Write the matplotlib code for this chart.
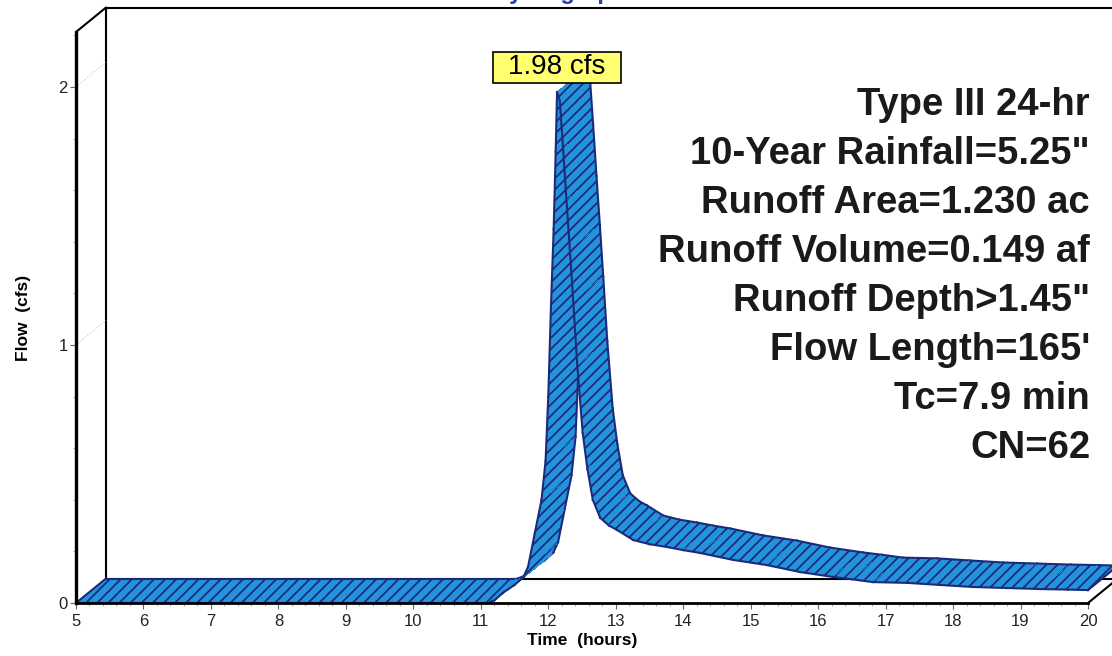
import numpy as np
import matplotlib.pyplot as plt
from matplotlib.patches import Polygon
from matplotlib.path import Path
from matplotlib.ticker import MultipleLocator

# hydrograph (front edge of the ribbon)
time_hr = [5.0, 11.1, 11.2, 11.33, 11.5, 11.63, 11.7, 11.8, 11.9, 11.96, 12.0,
           12.04, 12.08, 12.11, 12.13, 12.17, 12.22, 12.27, 12.32, 12.37, 12.43,
           12.51, 12.58, 12.66, 12.77, 12.9, 13.02, 13.26, 13.5, 13.76, 14.0,
           14.25, 14.74, 15.24, 15.73, 16.22, 16.5, 16.81, 17.32, 17.8, 18.3,
           18.8, 19.3, 19.7, 20.0]
flow_cfs = [0.0, 0.0, 0.01, 0.04, 0.07, 0.10, 0.14, 0.27, 0.40, 0.55, 0.80,
            1.15, 1.45, 1.75, 1.98, 1.95, 1.76, 1.56, 1.37, 1.17, 0.92,
            0.66, 0.52, 0.40, 0.33, 0.30, 0.283, 0.244, 0.228, 0.217, 0.205,
            0.194, 0.167, 0.147, 0.120, 0.101, 0.092, 0.081, 0.078, 0.070, 0.062,
            0.058, 0.054, 0.052, 0.050]
peak_label = "1.98 cfs"
summary_lines = [
    "Type III 24-hr",
    '10-Year Rainfall=5.25"',
    "Runoff Area=1.230 ac",
    "Runoff Volume=0.149 af",
    'Runoff Depth>1.45"',
    "Flow Length=165'",
    "Tc=7.9 min",
    "CN=62",
]
x_range = (5, 20)
y_top = 2.213

W, H = 1112, 656
DX, DY = 30, 24.5          # depth offset of the fake 3D box, pixels
FILL = "#2394dc"
NAVY = "#1b2a7a"

plt.rcParams["font.family"] = ["Liberation Sans", "DejaVu Sans"]
plt.rcParams["hatch.linewidth"] = 1.3

fig = plt.figure(figsize=(W / 100, H / 100), dpi=100)
ax = fig.add_axes([76 / W, (H - 603) / H, (1088 - 76) / W, (603 - 32) / H])
ax.set_xlim(*x_range)
ax.set_ylim(0, y_top)

dt = DX * (x_range[1] - x_range[0]) / (1088 - 76)
dq = DY * y_top / (603 - 32)
x0, x1 = x_range

# back wall / floor lines
frame = dict(color="black", lw=1.5, clip_on=False, zorder=1, solid_capstyle="round")
ax.plot([x0 + dt, x0 + dt, x1 + dt], [dq, y_top + dq, y_top + dq], **frame)
ax.plot([x0 + dt, x1 + dt], [dq, dq], **frame)
ax.plot([x1 + dt, x1 + dt], [dq, y_top + dq], **frame)
ax.plot([x0, x0 + dt], [y_top, y_top + dq], **frame)
ax.plot([x1, x1 + dt], [0, dq], **frame)
for yv in (1, 2):
    ax.plot([x0, x0 + dt], [yv, yv + dq], color="#c8c8c8", lw=0.8, ls=":",
            clip_on=False, zorder=1)

# ribbon, painted quad by quad in time order
t = np.array(time_hr)
q = np.array(flow_cfs)
for i in range(len(t) - 1):
    quad = [(t[i], q[i]), (t[i + 1], q[i + 1]),
            (t[i + 1] + dt, q[i + 1] + dq), (t[i] + dt, q[i] + dq)]
    ax.add_patch(Polygon(quad, closed=True, facecolor=FILL, edgecolor="none",
                         lw=0, antialiased=False, clip_on=False, zorder=2))
    ax.add_patch(Polygon(quad, closed=True, facecolor="none", edgecolor=NAVY,
                         lw=0, hatch="///", clip_on=False, zorder=2))
    ax.plot(t[i:i + 2], q[i:i + 2], color=NAVY, lw=1.5, clip_on=False, zorder=2)
    ax.plot(t[i:i + 2] + dt, q[i:i + 2] + dq, color=NAVY, lw=1.5,
            clip_on=False, zorder=2)
for k in (0, -1):
    ax.plot([t[k], t[k] + dt], [q[k], q[k] + dq], color=NAVY, lw=1.5,
            clip_on=False, zorder=2)

# front axes
for side in ("top", "right"):
    ax.spines[side].set_visible(False)
ax.spines["left"].set_linewidth(2.4)
ax.spines["bottom"].set_linewidth(2.0)
ax.spines["left"].set_zorder(3)
ax.spines["bottom"].set_zorder(3)

ax.xaxis.set_major_locator(MultipleLocator(1))
ax.xaxis.set_minor_locator(MultipleLocator(0.2))
ax.yaxis.set_major_locator(MultipleLocator(1))
ax.yaxis.set_minor_locator(MultipleLocator(0.2))
ax.tick_params(which="major", direction="out", length=4.5, width=0.8,
               color="#666666", labelsize=12, labelcolor="#222222")
ax.tick_params(which="minor", direction="out", length=2.2, width=0.6,
               color="#999999")
ax.tick_params(axis="x", which="major", pad=3.5)
ax.tick_params(axis="y", which="major", pad=1.5)

ax.set_xlabel("Time  (hours)", fontsize=12.5, fontweight="bold", labelpad=3)
ax.set_ylabel("Flow  (cfs)", fontsize=12.5, fontweight="bold", labelpad=20)


def label_box(x0, y0, width, height, mutation_size):
    px, py = 0.55 * mutation_size, 0.08 * mutation_size
    xa, ya = x0 - px, y0 - py
    xb, yb = x0 + width + px, y0 + height + py
    return Path([(xa, ya), (xb, ya), (xb, yb), (xa, yb), (xa, ya)], closed=True)


ip = int(np.argmax(q))
ax.annotate(peak_label, xy=(t[ip], q[ip]), xytext=(0, 8.5),
            textcoords="offset points", ha="center", va="bottom", fontsize=20,
            bbox=dict(boxstyle=label_box, fc="#ffff70", ec="black", lw=1.2),
            zorder=6, annotation_clip=False)

for k, line in enumerate(summary_lines):
    fig.text(1090 / W, 1 - (115 + 49 * k) / H, line, ha="right", va="baseline",
             fontsize=27.5, fontweight="bold", color="#1a1a1a")

# chart title, cut off by the top edge of the scan
fig.text(0.503, 1 + 1.5 / H, "Hydrograph", ha="center", va="baseline",
         fontsize=17, fontweight="bold", color="#2440b0")

fig.savefig("out.png", dpi=100)
